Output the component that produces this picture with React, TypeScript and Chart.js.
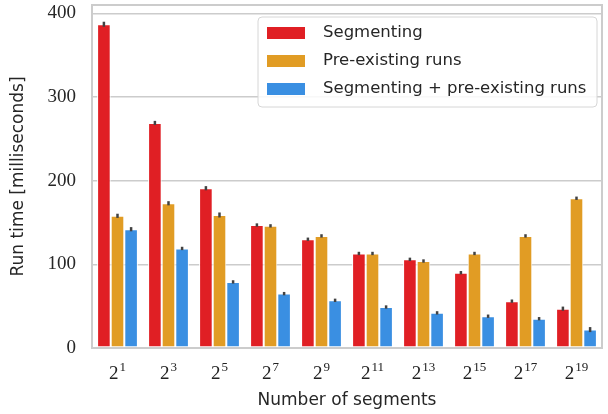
import React, { useEffect, useRef } from "react";
import { Chart, registerables } from "chart.js";

Chart.register(...registerables);

const categories = ["1", "3", "5", "7", "9", "11", "13", "15", "17", "19"];
const seriesLabels = ["Segmenting", "Pre-existing runs", "Segmenting + pre-existing runs"];
const segmenting = [387, 269, 191, 147, 130, 113, 106, 90, 56, 47];
const preExisting = [158, 173, 159, 146, 134, 113, 104, 113, 134, 179];
const combined = [142, 119, 79, 65, 57, 49, 42, 38, 35, 22];
const segErr = [3, 2.5, 2.5, 2, 2, 2, 2, 2, 2, 2.5];
const preErr = [2.5, 2.5, 3, 2, 2, 2, 2, 2, 2, 2];
const combErr = [2.5, 2, 2, 2, 2, 2, 2, 2, 2, 3];
const yTicks = [0, 100, 200, 300, 400];
const colors = ["#e01f24", "#e19c24", "#3a8fe2"];

const SERIF = "'Liberation Serif', 'DejaVu Serif', serif";
const SANS = "'DejaVu Sans', sans-serif";

export default function App() {
  const ref = useRef<HTMLCanvasElement | null>(null);
  useEffect(() => {
    document.body.style.margin = "0";
    const errs = [segErr, preErr, combErr];
    const overlay = {
      id: "overlay",
      afterDatasetsDraw(chart: any) {
        const ctx = chart.ctx;
        const ys = chart.scales.y;
        ctx.save();
        ctx.strokeStyle = "#424242";
        ctx.lineWidth = 2.5;
        chart.data.datasets.forEach((ds: any, di: number) => {
          const meta = chart.getDatasetMeta(di);
          meta.data.forEach((bar: any, i: number) => {
            const v = ds.data[i];
            const e = errs[di][i];
            ctx.beginPath();
            ctx.moveTo(bar.x, ys.getPixelForValue(v - e));
            ctx.lineTo(bar.x, ys.getPixelForValue(v + e));
            ctx.stroke();
          });
        });
        ctx.restore();
      },
      afterDraw(chart: any) {
        const ctx = chart.ctx;
        const a = chart.chartArea;
        const xs = chart.scales.x;
        ctx.save();
        ctx.strokeStyle = "#cccccc";
        ctx.lineWidth = 2;
        ctx.strokeRect(a.left, a.top, a.right - a.left, a.bottom - a.top);
        ctx.fillStyle = "#222222";
        ctx.textBaseline = "alphabetic";
        categories.forEach((c, i) => {
          const x = xs.getPixelForValue(i);
          ctx.font = `19px ${SERIF}`;
          const bw = ctx.measureText("2").width;
          ctx.font = `13px ${SERIF}`;
          const ew = ctx.measureText(c).width;
          const start = x - (bw + ew + 1) / 2;
          ctx.font = `19px ${SERIF}`;
          ctx.textAlign = "left";
          ctx.fillText("2", start, 379);
          ctx.font = `13px ${SERIF}`;
          ctx.fillText(c, start + bw + 1, 371);
        });
        const lx = 258, ly = 17, lw = 339, lh = 90;
        ctx.beginPath();
        ctx.roundRect(lx, ly, lw, lh, 4);
        ctx.fillStyle = "rgba(255,255,255,0.85)";
        ctx.fill();
        ctx.strokeStyle = "#d6d6d6";
        ctx.lineWidth = 1;
        ctx.stroke();
        ctx.font = `16.5px ${SANS}`;
        ctx.textBaseline = "middle";
        seriesLabels.forEach((lab, i) => {
          const cy = ly + 16 + i * 28;
          ctx.fillStyle = colors[i];
          ctx.fillRect(lx + 9, cy - 6, 38, 12);
          ctx.fillStyle = "#262626";
          ctx.textAlign = "left";
          ctx.fillText(lab, lx + 65, cy);
        });
        ctx.restore();
      },
    };
    const mk = (i: number, data: number[]) => ({
      label: seriesLabels[i],
      data,
      backgroundColor: colors[i],
      borderColor: "#ffffff",
      borderWidth: 1,
      borderSkipped: false as any,
      categoryPercentage: 0.8,
      barPercentage: 1.0,
    });
    const chart = new Chart(ref.current!, {
      type: "bar",
      data: {
        labels: categories,
        datasets: [mk(0, segmenting), mk(1, preExisting), mk(2, combined)],
      },
      options: {
        animation: false,
        responsive: false,
        layout: { padding: { top: 5, right: 6, left: 0, bottom: 0 } },
        plugins: { legend: { display: false }, tooltip: { enabled: false } },
        scales: {
          x: {
            grid: { display: false },
            border: { display: false },
            ticks: { color: "rgba(0,0,0,0)", font: { size: 19, family: SERIF } },
            title: {
              display: true,
              text: "Number of segments",
              color: "#262626",
              font: { size: 17, family: SANS },
              padding: { top: 0, bottom: 3 },
            },
            afterFit(s: any) {
              s.height = 66;
              s.paddingLeft = 0;
              s.paddingRight = 0;
            },
          },
          y: {
            min: 0,
            max: 410,
            afterBuildTicks(s: any) {
              s.ticks = yTicks.map((v) => ({ value: v }));
            },
            grid: { color: "#cccccc", lineWidth: 1.5, drawTicks: false },
            border: { display: false },
            ticks: {
              color: "#262626",
              font: { size: 19, family: SERIF },
              padding: 16,
            },
            title: {
              display: true,
              text: "Run time [milliseconds]",
              color: "#262626",
              font: { size: 17, family: SANS },
              padding: { top: 8, bottom: 0 },
            },
            afterFit(s: any) {
              s.width = 92;
              s.paddingTop = 0;
              s.paddingBottom = 0;
            },
          },
        },
      },
      plugins: [overlay],
    });
    return () => chart.destroy();
  }, []);
  return (
    <div style={{ width: 608, height: 414 }}>
      <canvas ref={ref} width={608} height={414} />
    </div>
  );
}
